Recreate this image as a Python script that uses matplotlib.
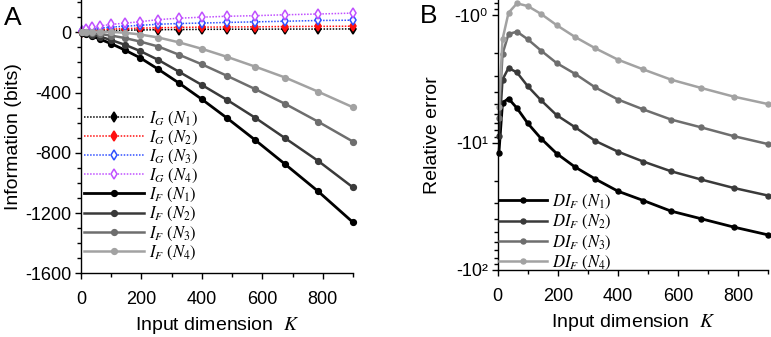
import matplotlib
matplotlib.use("Agg")
import matplotlib.pyplot as plt
import numpy as np
from matplotlib.ticker import MultipleLocator, FixedLocator, FixedFormatter, LogLocator, NullFormatter

plt.rcParams['font.family'] = ['Liberation Sans', 'DejaVu Sans']
plt.rcParams['mathtext.fontset'] = 'stix'
plt.rcParams['axes.unicode_minus'] = False

# ---------------- data ----------------
K = [4, 16, 36, 64, 100, 144, 196, 256, 324, 400, 484, 576, 676, 784, 900]

IG_N1 = [2, 5, 8, 10, 12, 14, 15, 17, 18, 19, 20, 20, 21, 21, 22]
IG_N2 = [3, 8, 13, 17, 21, 24, 27, 30, 32, 34, 35, 36, 38, 39, 40]
IG_N3 = [5, 12, 20, 27, 34, 40, 46, 53, 58, 61, 65, 69, 73, 78, 80]
IG_N4 = [9, 20, 32, 42, 52, 60, 70, 84, 93, 100, 106, 110, 116, 121, 127]

IF_N1 = [-2, -10, -25, -47, -76, -117, -170, -246, -337, -445, -571, -715, -877, -1055, -1262]
IF_N2 = [-1, -5, -15, -30, -52, -82, -125, -184, -262, -350, -450, -567, -704, -853, -1030]
IF_N3 = [0, -1, -5, -12, -22, -38, -62, -95, -149, -213, -290, -377, -476, -593, -726]
IF_N4 = [0, 2, 3, 3, 2, -3, -15, -35, -67, -110, -164, -228, -301, -394, -498]

# relative error magnitudes (plotted as negative values on inverted log axis)
DI_N1 = [12.1, 4.88, 4.52, 5.37, 7.07, 9.3, 12.2, 15.5, 19.3, 24.1, 28.5, 34.5, 39.6, 46.0, 53.1]
DI_N2 = [8.9, 3.21, 2.60, 2.82, 3.62, 4.66, 6.1, 7.55, 9.7, 11.8, 14.1, 16.8, 19.5, 22.7, 26.1]
DI_N3 = [6.4, 2.02, 1.41, 1.35, 1.55, 1.90, 2.38, 2.88, 3.69, 4.6, 5.5, 6.6, 7.6, 8.9, 10.3]
DI_N4 = [5.3, 1.55, 0.96, 0.81, 0.85, 0.98, 1.20, 1.48, 1.82, 2.24, 2.67, 3.21, 3.73, 4.36, 5.0]

IG_series = [IG_N1, IG_N2, IG_N3, IG_N4]
IF_series = [IF_N1, IF_N2, IF_N3, IF_N4]
DI_series = [DI_N1, DI_N2, DI_N3, DI_N4]
IG_labels = [r'$I_G\ (N_1)$', r'$I_G\ (N_2)$', r'$I_G\ (N_3)$', r'$I_G\ (N_4)$']
IF_labels = [r'$I_F\ (N_1)$', r'$I_F\ (N_2)$', r'$I_F\ (N_3)$', r'$I_F\ (N_4)$']
DI_labels = [r'$DI_F\ (N_1)$', r'$DI_F\ (N_2)$', r'$DI_F\ (N_3)$', r'$DI_F\ (N_4)$']
x_ticks = [0, 200, 400, 600, 800]
yA_ticks = [0, -400, -800, -1200, -1600]
yB_ticks = [1, 10, 100]
yB_labels = ['-10\u2070', '-10\u00b9', '-10\u00b2']

# ---------------- styles ----------------
ig_colors = ['black', '#ff1010', '#3050ff', '#c050ff']
ig_faces = ['black', '#ff1010', 'white', 'white']
gray_colors = ['black', '#3a3a3a', '#6e6e6e', '#a2a2a2']

W, H = 771, 337
fig = plt.figure(figsize=(W / 100, H / 100), dpi=100)

def style_axes(ax):
    for s in ['top', 'right']:
        ax.spines[s].set_visible(False)
    ax.spines['left'].set_linewidth(1.0)
    ax.spines['bottom'].set_linewidth(1.0)
    ax.tick_params(which='major', direction='out', length=4, width=1, labelsize=13, pad=3)
    ax.tick_params(which='minor', direction='out', length=3, width=1)
    ax.tick_params(axis='x', which='major', pad=9)

# ---------------- panel A ----------------
axA = fig.add_axes([81 / W, (H - 273.3) / H, 272 / W, 273.3 / H])
for ys, c, fc, lab in zip(IG_series, ig_colors, ig_faces, IG_labels):
    axA.plot(K, ys, linestyle=(0, (1, 1)), color=c, lw=1.1, marker='d', ms=5.5,
             mfc=fc, mec=c, mew=1.1, label=lab, clip_on=False)
for ys, c, lab in zip(IF_series, gray_colors, IF_labels):
    axA.plot(K, ys, '-', color=c, lw=2.0 if c == 'black' else 1.8, marker='o', ms=4.2,
             mfc=c, mec=c, label=lab, clip_on=False, zorder=3)
axA.set_xlim(0, 900)
axA.set_ylim(-1600, 214)
axA.xaxis.set_major_locator(FixedLocator(x_ticks))
axA.xaxis.set_minor_locator(MultipleLocator(100))
axA.yaxis.set_major_locator(FixedLocator(yA_ticks))
axA.yaxis.set_minor_locator(MultipleLocator(100))
style_axes(axA)
axA.set_xlabel(r'Input dimension  $K$', fontsize=14, labelpad=5)
axA.set_ylabel('Information (bits)', fontsize=14, labelpad=2)
axA.legend(loc='lower left', bbox_to_anchor=(0.0, 0.03), frameon=False, fontsize=12,
           handlelength=3.6, handletextpad=0.3, labelspacing=0.06, numpoints=1,
           borderaxespad=0.05, borderpad=0.15)
fig.text(4 / W, 1 - 25 / H, 'A', fontsize=19)

# ---------------- panel B ----------------
axB = fig.add_axes([497.7 / W, (H - 270) / H, 270.7 / W, 270 / H])
for ys, c, lab in zip(DI_series, gray_colors, DI_labels):
    axB.plot(K, ys, '-', color=c, lw=2.0 if c == 'black' else 1.8, marker='o', ms=3.6,
             mfc=c, mec=c, label=lab, clip_on=False)
axB.set_yscale('log')
axB.set_ylim(100, 0.762)
axB.set_xlim(0, 900)
axB.xaxis.set_major_locator(FixedLocator(x_ticks))
axB.xaxis.set_minor_locator(MultipleLocator(100))
axB.yaxis.set_major_locator(FixedLocator(yB_ticks))
axB.yaxis.set_major_formatter(FixedFormatter(yB_labels))
axB.yaxis.set_minor_locator(LogLocator(base=10, subs=np.arange(2, 10)))
axB.yaxis.set_minor_formatter(NullFormatter())
style_axes(axB)
axB.set_xlabel(r'Input dimension  $K$', fontsize=14, labelpad=5)
axB.set_ylabel('Relative error', fontsize=14, labelpad=10)
axB.legend(loc='lower left', bbox_to_anchor=(0.0, -0.012), frameon=False, fontsize=12,
           handlelength=2.9, handletextpad=0.3, labelspacing=0.14, numpoints=1,
           borderaxespad=0.0, borderpad=0.05)
fig.text(420 / W, 1 - 23 / H, 'B', fontsize=19)

fig.savefig('out.png', dpi=100)
